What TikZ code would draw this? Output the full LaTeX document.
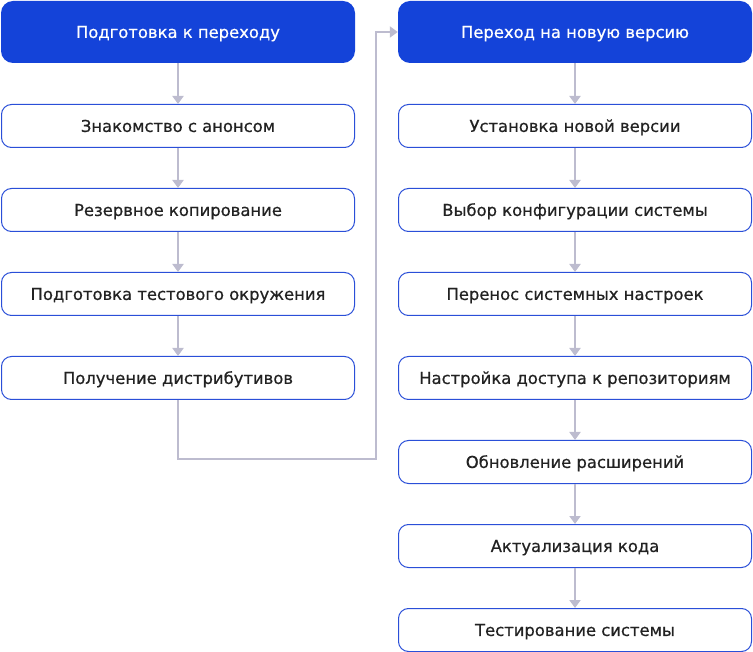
\documentclass[tikz,border=0pt]{standalone}
\usepackage{fontspec}
\setmainfont{DejaVu Sans}[FakeBold=0.6]
\usetikzlibrary{arrows.meta}
\definecolor{hdrblue}{HTML}{1443D9}
\definecolor{bordblue}{HTML}{2A4FD8}
\definecolor{linegray}{HTML}{BDBCCF}
\definecolor{txtdark}{HTML}{222222}
\begin{document}
\begin{tikzpicture}[x=1pt,y=-1pt,
  boxtext/.style={font=\fontsize{16.4}{19}\selectfont,text height=11.9pt,text depth=0pt,inner sep=0pt},
  hdr/.style={boxtext,fill=hdrblue,draw=none,rounded corners=12pt,minimum width=354pt,minimum height=62pt,text=white},
  stepbox/.style={boxtext,fill=white,draw=bordblue,line width=1pt,rounded corners=10pt,minimum width=353pt,minimum height=43pt,text=txtdark},
  conn/.style={draw=linegray,line width=2pt,-{Triangle[length=8pt,width=11pt]}}]
\useasboundingbox (0,0) rectangle (753,652);
% left column
\node[hdr] (L0) at (178,32) {Подготовка к переходу};
\node[stepbox] (L1) at (178,126) {Знакомство с анонсом};
\node[stepbox] (L2) at (178,210) {Резервное копирование};
\node[stepbox] (L3) at (178,294) {Подготовка тестового окружения};
\node[stepbox] (L4) at (178,378) {Получение дистрибутивов};
% right column
\node[hdr] (R0) at (575,32) {Переход на новую версию};
\node[stepbox] (R1) at (575,126) {Установка новой версии};
\node[stepbox] (R2) at (575,210) {Выбор конфигурации системы};
\node[stepbox] (R3) at (575,294) {Перенос системных настроек};
\node[stepbox] (R4) at (575,378) {Настройка доступа к репозиториям};
\node[stepbox] (R5) at (575,462) {Обновление расширений};
\node[stepbox] (R6) at (575,546) {Актуализация кода};
\node[stepbox] (R7) at (575,630) {Тестирование системы};
\coordinate (c1) at (178,459);
\coordinate (c2) at (376,459);
\coordinate (c3) at (376,32);
% connectors
\draw[conn] (L0) -- (L1);
\draw[conn] (L1) -- (L2);
\draw[conn] (L2) -- (L3);
\draw[conn] (L3) -- (L4);
\draw[conn] (R0) -- (R1);
\draw[conn] (R1) -- (R2);
\draw[conn] (R2) -- (R3);
\draw[conn] (R3) -- (R4);
\draw[conn] (R4) -- (R5);
\draw[conn] (R5) -- (R6);
\draw[conn] (R6) -- (R7);
\draw[conn,rounded corners=0pt] (L4.south) -- (c1) -- (c2) -- (c3) -- (R0.west);
\end{tikzpicture}
\end{document}
